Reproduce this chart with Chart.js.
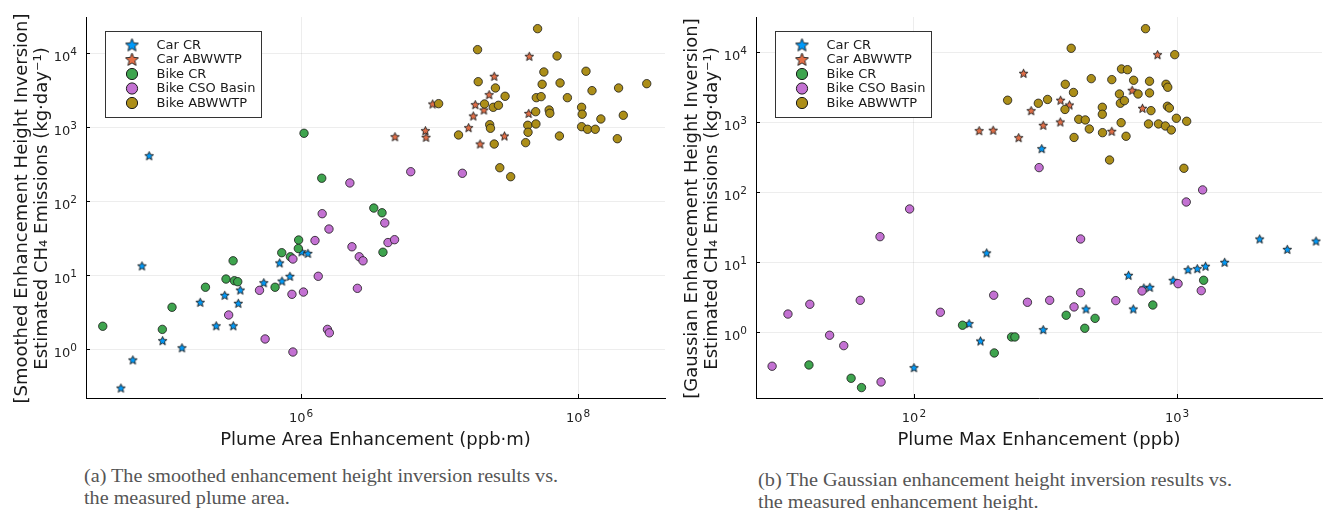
<!DOCTYPE html>
<html>
<head>
<meta charset="utf-8">
<script src="https://cdn.jsdelivr.net/npm/chart.js@4.4.0/dist/chart.umd.min.js"></script>
<style>
  body { margin: 0; background: #fff; width: 1327px; height: 510px; overflow: hidden; position: relative; }
  canvas { position: absolute; top: 0; }
  #areaChart { left: 0; }
  #maxChart { left: 670px; }
  .cap { position: absolute; font-family: "Liberation Serif", serif; font-size: 18px; line-height: 22px;
         color: #555; white-space: nowrap; transform-origin: 0 0; }
  .cap span { display: inline-block; }
</style>
</head>
<body>
<canvas id="areaChart" width="670" height="455"></canvas>
<canvas id="maxChart" width="657" height="455"></canvas>
<div class="cap" id="capA" style="left:84px; top:465px"><span>(a) The smoothed enhancement height inversion results vs.</span><br>the measured plume area.</div>
<div class="cap" id="capB" style="left:758px; top:469px"><span>(b) The Gaussian enhancement height inversion results vs.</span><br>the measured enhancement height.</div>
<script>
// series, in plotting order
const seriesNames = ['Car CR', 'Car ABWWTP', 'Bike CR', 'Bike CSO Basin', 'Bike ABWWTP'];

// plume area (ppb·m) vs smoothed-inversion emissions (kg/day)
const carCrArea = [8.0e4, 7.1e4, 5.0e4, 6.1e4, 1.0e5, 1.38e5, 1.87e5, 2.44e5, 3.24e5, 2.81e5, 3.52e5, 3.64e5, 5.38e5, 7.0e5, 7.28e5, 8.3e5, 1.01e6, 1.12e6];
const carCrSmooth = [413, 13.4, 0.30, 0.72, 1.31, 1.05, 4.32, 2.08, 2.08, 5.37, 4.19, 6.33, 7.94, 14.7, 8.37, 9.7, 20.8, 19.8];
const carAbArea = [4.76e6, 7.9e6, 7.98e6, 8.91e6, 1.62e7, 1.75e7, 1.81e7, 1.96e7, 2.09e7, 2.28e7, 2.48e7, 2.94e7, 4.4e7, 4.44e7];
const carAbSmooth = [746, 900, 733, 2065, 988, 1422, 2020, 595, 1713, 2760, 4890, 763, 1540, 9100];
const bikeCrArea = [1.05e6, 1.41e6, 9.6e5, 9.55e5, 7.25e5, 8.37e5, 3.7e4, 9.96e4, 1.17e5, 2.04e5, 2.87e5, 3.23e5, 3.3e5, 3.49e5, 6.49e5, 3.35e6, 3.84e6, 3.9e6];
const bikeCrSmooth = [830, 205, 30, 23, 20.2, 17.8, 2.05, 1.86, 3.7, 6.9, 8.9, 15.7, 8.45, 8.2, 6.9, 81, 70, 20.5];
const bikeCsoArea = [3.0e5, 5.5e5, 5.01e5, 8.59e5, 8.73e5, 8.73e5, 1.04e6, 1.26e6, 1.33e6, 1.55e6, 1.6e6, 1.42e6, 1.59e6, 2.25e6, 2.33e6, 2.63e6, 2.8e6, 2.55e6, 4.02e6, 4.24e6, 4.73e6, 6.19e6, 1.46e7];
const bikeCsoSmooth = [2.91, 1.38, 6.27, 5.54, 16.6, 0.92, 5.94, 29.5, 9.7, 1.86, 1.67, 68, 42.2, 177, 24.3, 17.8, 15.7, 6.67, 51, 27.7, 30.3, 251, 239];
const bikeAbArea = [9.84e6, 1.37e7, 1.88e7, 1.9e7, 2.11e7, 2.3e7, 2.33e7, 2.44e7, 2.53e7, 2.66e7, 2.48e7, 2.72e7, 2.97e7, 3.26e7, 4.18e7, 4.33e7, 4.35e7, 4.94e7, 4.96e7, 4.99e7, 5.1e7, 5.41e7, 5.5e7, 5.66e7, 6.18e7, 6.25e7, 7.05e7, 7.33e7, 7.41e7, 8.37e7, 1.06e8, 1.07e8, 1.06e8, 1.14e8, 1.17e8, 1.26e8, 1.33e8, 1.46e8, 1.92e8, 1.96e8, 2.12e8, 3.13e8];
const bikeAbSmooth = [2085, 787, 11190, 4130, 2065, 1084, 969, 1862, 3396, 1982, 594, 284, 2624, 215, 620, 1064, 856, 1625, 1109, 2512, 21500, 2594, 3811, 5585, 1713, 1546, 9200, 763, 3972, 2512, 1862, 1500, 1019, 5715, 940, 3126, 940, 1295, 701, 3396, 1452, 3882];

// plume max enhancement (ppb) vs gaussian-inversion emissions (kg/day)
const carCrMax = [100, 189, 162, 179, 306, 310, 451, 654, 682, 748, 788, 966, 1101, 1194, 1283, 1517, 2061, 2624, 3375];
const carCrGauss = [0.312, 13.6, 1.33, 0.75, 420, 1.09, 2.15, 6.52, 2.15, 4.29, 4.39, 5.53, 7.84, 8.1, 8.77, 10, 21.5, 15.3, 20.1];
const carAbMax = [177, 200, 250, 261, 279, 310, 360, 361, 390, 565, 675, 739, 843];
const carAbGauss = [759, 769, 603, 5010, 1465, 906, 1009, 2063, 1766, 744, 2866, 1585, 9245];
const bikeCrMax = [39.9, 57.7, 63.2, 153, 202, 235, 242, 379, 446, 488, 809, 1262];
const bikeCrGauss = [0.341, 0.22, 0.162, 1.26, 0.506, 0.857, 0.857, 1.75, 1.14, 1.58, 2.45, 5.53];
const bikeCsoMax = [28.9, 33.2, 40.2, 47.8, 54.1, 62.5, 74.3, 75, 96.3, 126, 201, 270, 299, 328, 406, 430, 430, 585, 736, 1009, 1084, 1236, 1251];
const bikeCsoGauss = [0.327, 1.82, 2.51, 0.906, 0.644, 2.86, 23.2, 0.195, 57.7, 1.93, 3.38, 2.68, 225, 2.86, 2.3, 21.5, 3.68, 2.83, 3.89, 4.94, 72.6, 3.93, 108];
const bikeAbMax = [227, 297, 322, 376, 404, 375, 396, 423, 448, 406, 464, 472, 520, 520, 521, 554, 565, 604, 609, 631, 615, 648, 613, 640, 684, 711, 759, 786, 786, 796, 779, 850, 903, 908, 922, 919, 935, 951, 980, 994, 1088, 1062];
const bikeAbGauss = [2063, 1868, 2118, 3490, 2665, 1524, 11400, 1104, 1079, 607, 802, 4198, 1637, 1300, 710, 289, 4064, 2535, 1868, 2036, 5770, 5640, 987, 631, 3981, 2535, 21730, 3855, 2624, 1465, 946, 946, 885, 3490, 3162, 1694, 1600, 776, 9245, 1140, 1033, 220];

// decade ticks
const areaTicks = [1e6, 1e8];
const maxTicks = [1e2, 1e3];
const emissionTicks = [1e0, 1e1, 1e2, 1e3, 1e4];

const colors = ['#009AFA', '#E36F47', '#3EA44E', '#C371D2', '#AC8E18'];
const markers = ['star', 'star', 'circle', 'circle', 'circle'];
const FONT = '"DejaVu Sans", sans-serif';

function starImage(color, R) {
  const size = Math.ceil(R * 2 + 3);
  const c = document.createElement('canvas');
  c.width = c.height = size;
  const g = c.getContext('2d');
  const r = R * 0.45;
  g.beginPath();
  for (let i = 0; i < 10; i++) {
    const a = -Math.PI / 2 + i * Math.PI / 5;
    const rr = i % 2 ? r : R;
    g.lineTo(size / 2 + rr * Math.cos(a), size / 2 + 0.4 + rr * Math.sin(a));
  }
  g.closePath();
  g.fillStyle = color;
  g.fill();
  g.lineWidth = 0.9;
  g.strokeStyle = '#1a1a1a';
  g.stroke();
  return c;
}

// axis titles, "10^n" tick labels, inward tick marks and the boxed legend
function decorations(o) {
  return {
    id: 'decor',
    afterDraw(chart) {
      const ctx = chart.ctx, a = chart.chartArea;
      const xs = chart.scales.x, ys = chart.scales.y;
      ctx.save();

      ctx.strokeStyle = '#000';
      ctx.lineWidth = 1;
      o.xTicks.forEach(v => {
        const px = Math.round(xs.getPixelForValue(v)) + 0.5;
        ctx.beginPath(); ctx.moveTo(px, a.bottom); ctx.lineTo(px, a.bottom - 4); ctx.stroke();
      });
      o.yTicks.forEach(v => {
        const py = Math.round(ys.getPixelForValue(v)) + 0.5;
        ctx.beginPath(); ctx.moveTo(a.left, py); ctx.lineTo(a.left + 4, py); ctx.stroke();
      });

      ctx.fillStyle = '#222';
      ctx.textBaseline = 'alphabetic';
      const base = '13px ' + FONT, sup = '10.5px ' + FONT;
      o.xTicks.forEach(v => {
        const e = String(Math.round(Math.log10(v)));
        const px = xs.getPixelForValue(v);
        ctx.font = base; const wb = ctx.measureText('10').width;
        ctx.font = sup; const we = ctx.measureText(e).width;
        const x0 = px - (wb + we + 1) / 2;
        ctx.textAlign = 'left';
        ctx.font = base; ctx.fillText('10', x0, a.bottom + 24);
        ctx.font = sup; ctx.fillText(e, x0 + wb + 1, a.bottom + 18.5);
      });
      o.yTicks.forEach(v => {
        const e = String(Math.round(Math.log10(v)));
        const py = ys.getPixelForValue(v);
        ctx.font = sup; const we = ctx.measureText(e).width;
        ctx.textAlign = 'right';
        ctx.fillText(e, a.left - 9, py + 2);
        ctx.font = base;
        ctx.fillText('10', a.left - 9 - we, py + 7.5);
      });

      ctx.fillStyle = '#1a1a1a';
      ctx.font = '18px ' + FONT;
      ctx.textAlign = 'center';
      ctx.fillText(o.xTitle, (a.left + a.right) / 2, a.bottom + 46.5);
      const cy = (a.top + a.bottom) / 2;
      o.yTitle.forEach((line, i) => {
        ctx.save();
        ctx.translate(27 + i * 20, cy + 1);
        ctx.rotate(-Math.PI / 2);
        ctx.fillText(line, 0, 0);
        ctx.restore();
      });

      // legend box
      const lx = a.left + 19.5, ly = 31.5;
      ctx.fillStyle = '#fff';
      ctx.fillRect(lx, ly, 156, 86);
      ctx.strokeStyle = '#333';
      ctx.strokeRect(lx, ly, 156, 86);
      ctx.font = '13px ' + FONT;
      ctx.textAlign = 'left';
      ctx.textBaseline = 'middle';
      seriesNames.forEach((name, i) => {
        const my = 45 + i * 14.5, mx = a.left + 46;
        if (markers[i] === 'star') {
          const img = starImage(colors[i], 6.8);
          ctx.drawImage(img, mx - img.width / 2, my - img.height / 2);
        } else {
          ctx.beginPath();
          ctx.arc(mx, my, 5.6, 0, Math.PI * 2);
          ctx.fillStyle = colors[i];
          ctx.fill();
          ctx.lineWidth = 1;
          ctx.strokeStyle = '#1a1a1a';
          ctx.stroke();
        }
        ctx.fillStyle = '#1a1a1a';
        ctx.fillText(name, a.left + 70.5, my + 0.5);
      });
      ctx.restore();
    }
  };
}

function makeChart(id, xData, yData, o) {
  const datasets = seriesNames.map((name, i) => ({
    label: name,
    data: xData[i].map((x, j) => ({ x: x, y: yData[i][j] })),
    pointStyle: markers[i] === 'star' ? starImage(colors[i], 4.6) : 'circle',
    pointRadius: 4.2,
    backgroundColor: colors[i],
    borderColor: '#1a1a1a',
    borderWidth: 0.8,
    order: seriesNames.length - i
  }));
  const grid = { color: 'rgba(0,0,0,0.07)', drawTicks: false };
  const border = { color: '#000', width: 1 };
  return new Chart(document.getElementById(id), {
    type: 'scatter',
    data: { datasets: datasets },
    options: {
      responsive: false,
      animation: false,
      events: [],
      layout: { padding: { top: 17, right: o.padRight, left: 0, bottom: 0 } },
      plugins: { legend: { display: false }, tooltip: { enabled: false } },
      scales: {
        x: {
          type: 'logarithmic', min: o.xMin, max: o.xMax,
          afterBuildTicks: s => { s.ticks = o.xTicks.map(v => ({ value: v })); },
          afterFit: s => { s.height = 57; },
          ticks: { display: false }, grid: grid, border: border
        },
        y: {
          type: 'logarithmic', min: o.yMin, max: o.yMax,
          afterBuildTicks: s => { s.ticks = o.yTicks.map(v => ({ value: v })); },
          afterFit: s => { s.width = 86; },
          ticks: { display: false }, grid: grid, border: border
        }
      }
    },
    plugins: [decorations(o)]
  });
}

makeChart('areaChart',
  [carCrArea, carAbArea, bikeCrArea, bikeCsoArea, bikeAbArea],
  [carCrSmooth, carAbSmooth, bikeCrSmooth, bikeCsoSmooth, bikeAbSmooth],
  {
    xMin: 2.8e4, xMax: 4.24e8, yMin: 0.22, yMax: 3.09e4, padRight: 2,
    xTicks: areaTicks, yTicks: emissionTicks,
    xTitle: 'Plume Area Enhancement (ppb·m)',
    yTitle: ['[Smoothed Enhancement Height Inversion]', 'Estimated CH\u2084 Emissions (kg·day\u207B\u00B9)']
  });

makeChart('maxChart',
  [carCrMax, carAbMax, bikeCrMax, bikeCsoMax, bikeAbMax],
  [carCrGauss, carAbGauss, bikeCrGauss, bikeCsoGauss, bikeAbGauss],
  {
    xMin: 25.1, xMax: 3556, yMin: 0.115, yMax: 3.19e4, padRight: 1,
    xTicks: maxTicks, yTicks: emissionTicks,
    xTitle: 'Plume Max Enhancement (ppb)',
    yTitle: ['[Gaussian Enhancement Height Inversion]', 'Estimated CH\u2084 Emissions (kg·day\u207B\u00B9)']
  });

// squeeze the captions to the column width
['capA', 'capB'].forEach(id => {
  const el = document.getElementById(id);
  const w = el.querySelector('span').getBoundingClientRect().width;
  el.style.transform = 'scaleX(' + (474 / w).toFixed(4) + ')';
});
</script>
</body>
</html>
